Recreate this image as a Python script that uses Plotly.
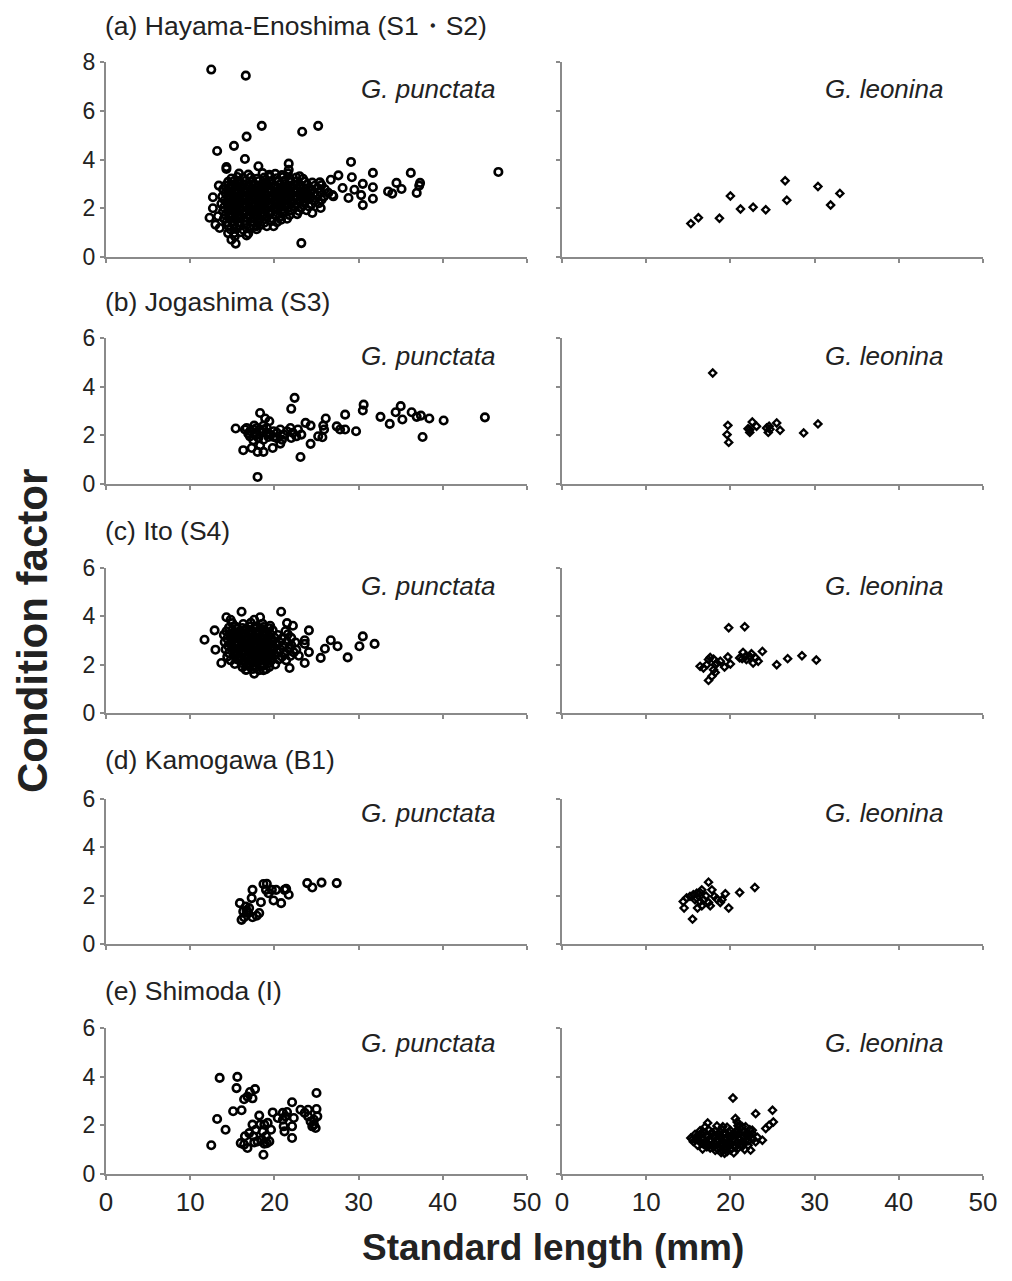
import plotly.graph_objects as go

# ---------------- data (standard length mm, condition factor) ----------------
hayama_punctata = [
    (12.5, 7.69), (16.6, 7.44), (18.5, 5.38), (25.2, 5.38), (23.3, 5.14), (16.7, 4.94),
    (15.2, 4.56), (13.2, 4.35), (16.5, 4.02), (14.3, 3.69), (14.3, 3.61), (18.1, 3.72),
    (21.7, 3.83), (21.7, 3.58), (29.1, 3.90), (31.7, 3.45), (36.2, 3.45), (46.6, 3.49),
    (27.6, 3.35), (26.7, 3.17), (29.2, 3.27), (23.0, 3.31), (25.4, 3.06), (30.5, 3.00),
    (31.7, 2.86), (34.5, 3.04), (37.3, 3.04), (37.2, 2.93), (35.1, 2.79), (33.5, 2.69),
    (34.0, 2.60), (36.9, 2.63), (28.1, 2.83), (29.5, 2.76), (30.3, 2.54), (31.7, 2.39),
    (30.5, 2.13), (28.8, 2.42), (27.0, 2.49), (26.9, 2.54), (23.2, 0.57), (12.3, 1.61),
    (12.7, 2.00), (12.7, 2.45), (13.4, 2.93), (13.0, 1.33), (13.5, 1.19), (14.5, 0.98),
    (14.9, 0.71), (15.4, 0.55), (16.7, 0.88), (15.3, 0.85), (20.8, 1.53), (19.9, 1.26),
    (24.5, 1.81), (25.5, 2.01), (17.9, 1.26), (13.3, 1.67),
    (15.8, 3.42), (16.9, 3.38), (18.6, 3.44), (19.4, 3.37), (20.1, 3.41), (20.9, 3.36), (21.6, 3.43),
    (14.9, 3.22), (15.6, 3.28), (16.3, 3.24), (17.2, 3.27), (17.9, 3.21), (18.8, 3.26), (19.5, 3.29),
    (20.3, 3.23), (21.0, 3.27), (21.8, 3.22), (22.6, 3.26), (23.4, 3.21),
    (14.5, 3.08), (15.2, 3.12), (15.9, 3.07), (16.6, 3.13), (17.4, 3.09), (18.1, 3.11), (18.9, 3.06),
    (19.6, 3.12), (20.4, 3.08), (21.2, 3.13), (21.9, 3.07), (22.7, 3.11), (23.6, 3.09), (24.5, 3.05),
    (14.2, 2.93), (14.9, 2.97), (15.6, 2.92), (16.3, 2.98), (17.0, 2.94), (17.7, 2.96), (18.5, 2.91),
    (19.2, 2.97), (20.0, 2.93), (20.7, 2.98), (21.5, 2.92), (22.3, 2.96), (23.1, 2.94), (23.9, 2.97),
    (24.8, 2.92), (25.6, 2.95),
    (13.9, 2.78), (14.6, 2.82), (15.3, 2.77), (16.0, 2.83), (16.7, 2.79), (17.4, 2.81), (18.1, 2.76),
    (18.9, 2.82), (19.6, 2.78), (20.4, 2.83), (21.1, 2.77), (21.9, 2.81), (22.7, 2.79), (23.5, 2.83),
    (24.3, 2.77), (25.2, 2.81), (26.0, 2.78),
    (14.2, 2.63), (14.9, 2.67), (15.6, 2.62), (16.3, 2.68), (17.1, 2.64), (17.8, 2.66), (18.5, 2.61),
    (19.3, 2.67), (20.0, 2.63), (20.8, 2.68), (21.5, 2.62), (22.3, 2.66), (23.1, 2.64), (23.9, 2.67),
    (24.7, 2.62), (25.5, 2.66), (26.4, 2.63),
    (13.8, 2.48), (14.5, 2.52), (15.2, 2.47), (15.9, 2.53), (16.7, 2.49), (17.4, 2.51), (18.2, 2.46),
    (18.9, 2.52), (19.7, 2.48), (20.4, 2.53), (21.2, 2.47), (21.9, 2.51), (22.7, 2.49), (23.5, 2.53),
    (24.3, 2.47), (25.1, 2.51), (25.9, 2.48),
    (14.1, 2.33), (14.8, 2.37), (15.5, 2.32), (16.3, 2.38), (17.0, 2.34), (17.8, 2.36), (18.5, 2.31),
    (19.3, 2.37), (20.0, 2.33), (20.8, 2.38), (21.6, 2.32), (22.3, 2.36), (23.1, 2.34), (23.9, 2.37),
    (24.8, 2.32), (25.6, 2.35),
    (13.7, 2.18), (14.4, 2.22), (15.1, 2.17), (15.9, 2.23), (16.6, 2.19), (17.4, 2.21), (18.1, 2.16),
    (18.9, 2.22), (19.6, 2.18), (20.4, 2.23), (21.2, 2.17), (22.0, 2.21), (22.7, 2.19), (23.5, 2.23),
    (24.4, 2.17), (25.3, 2.21),
    (14.0, 2.03), (14.8, 2.07), (15.5, 2.02), (16.2, 2.08), (17.0, 2.04), (17.7, 2.06), (18.5, 2.01),
    (19.3, 2.07), (20.0, 2.03), (20.8, 2.08), (21.6, 2.02), (22.4, 2.06), (23.2, 2.04), (24.1, 2.07),
    (13.9, 1.88), (14.5, 1.92), (15.2, 1.87), (15.9, 1.93), (16.6, 1.89), (17.3, 1.91), (18.1, 1.86),
    (18.9, 1.92), (19.6, 1.88), (20.4, 1.93), (21.2, 1.87), (22.0, 1.91), (22.9, 1.89), (23.8, 1.92),
    (14.2, 1.73), (14.9, 1.77), (15.6, 1.72), (16.3, 1.78), (17.0, 1.74), (17.8, 1.76), (18.6, 1.71),
    (19.3, 1.77), (20.1, 1.73), (20.9, 1.78), (21.8, 1.72), (22.7, 1.76),
    (14.0, 1.58), (14.6, 1.62), (15.3, 1.57), (16.0, 1.63), (16.8, 1.59), (17.5, 1.61), (18.3, 1.56),
    (19.1, 1.62), (19.8, 1.58), (20.6, 1.63), (21.5, 1.57),
    (14.3, 1.43), (15.0, 1.47), (15.7, 1.42), (16.5, 1.48), (17.2, 1.44), (18.0, 1.46), (18.8, 1.41),
    (19.6, 1.47), (20.3, 1.43),
    (14.5, 1.28), (15.2, 1.32), (15.9, 1.27), (16.7, 1.33), (17.5, 1.29), (18.3, 1.31), (19.1, 1.26),
    (14.8, 1.13), (15.5, 1.17), (16.3, 1.12), (17.1, 1.18), (17.9, 1.14),
    (15.2, 0.98), (16.0, 1.02), (16.9, 0.97),
    (15.0, 2.88), (16.0, 2.86), (17.0, 2.89), (18.0, 2.87), (19.0, 2.88), (20.0, 2.86), (21.0, 2.89),
    (22.0, 2.87), (23.0, 2.88),
    (14.5, 2.72), (15.5, 2.71), (16.5, 2.73), (17.5, 2.72), (18.5, 2.70), (19.5, 2.73), (20.5, 2.71),
    (21.5, 2.72), (22.5, 2.73), (23.5, 2.71),
    (15.0, 2.57), (16.0, 2.56), (17.0, 2.58), (18.0, 2.57), (19.0, 2.55), (20.0, 2.58), (21.0, 2.56),
    (22.0, 2.57), (23.0, 2.58), (24.0, 2.56),
    (14.5, 2.42), (15.5, 2.41), (16.5, 2.43), (17.5, 2.42), (18.5, 2.40), (19.5, 2.43), (20.5, 2.41),
    (21.5, 2.42), (22.5, 2.43), (23.5, 2.41),
    (15.0, 2.27), (16.0, 2.26), (17.0, 2.28), (18.0, 2.27), (19.0, 2.25), (20.0, 2.28), (21.0, 2.26),
    (22.0, 2.27), (23.0, 2.28),
    (14.5, 2.12), (15.5, 2.11), (16.5, 2.13), (17.5, 2.12), (18.5, 2.10), (19.5, 2.13), (20.5, 2.11),
    (21.5, 2.12),
    (15.0, 1.97), (16.0, 1.96), (17.0, 1.98), (18.0, 1.97), (19.0, 1.95), (20.0, 1.98), (21.0, 1.96),
    (15.5, 1.82), (16.5, 1.81), (17.5, 1.83), (18.5, 1.82), (19.5, 1.80),
    (15.0, 1.67), (16.0, 1.66), (17.0, 1.68), (18.0, 1.67),
]

hayama_leonina = [
    (15.3, 1.37), (16.2, 1.61), (18.7, 1.59), (20.0, 2.50), (21.2, 1.97), (22.7, 2.04),
    (24.2, 1.94), (26.5, 3.13), (26.7, 2.33), (30.4, 2.89), (31.9, 2.13), (33.0, 2.61),
]

jogashima_punctata = [
    (22.4, 3.54), (22.0, 3.09), (15.4, 2.28), (18.3, 2.92), (18.9, 2.69), (19.4, 2.58),
    (16.3, 1.39), (18.0, 1.32), (18.7, 1.32), (19.8, 1.48), (18.0, 0.29), (23.1, 1.11),
    (24.3, 1.65), (25.2, 1.96), (25.7, 1.92), (25.9, 2.24), (25.8, 2.40), (26.1, 2.69),
    (23.7, 2.51), (24.3, 2.40), (23.2, 2.03), (28.4, 2.85), (27.4, 2.37), (27.8, 2.24),
    (28.4, 2.24), (29.7, 2.17), (30.6, 3.26), (30.5, 3.02), (32.6, 2.76), (33.7, 2.47),
    (34.4, 2.95), (35.0, 3.20), (35.2, 2.65), (36.3, 2.95), (36.9, 2.76), (37.4, 2.81),
    (38.4, 2.69), (37.6, 1.93), (40.1, 2.61), (45.0, 2.74),
    (16.7, 2.30), (17.1, 2.17), (17.5, 2.24), (17.9, 2.30), (18.3, 2.13), (18.7, 2.24),
    (19.1, 2.10), (19.5, 2.03), (19.9, 2.17), (20.3, 2.10), (20.7, 2.24), (21.1, 2.03),
    (21.5, 2.17), (21.9, 2.30), (22.2, 2.10), (22.6, 1.96), (22.0, 1.89), (20.9, 1.82),
    (20.7, 1.66), (19.9, 1.93), (17.9, 2.03), (17.1, 1.96), (17.5, 1.80), (18.7, 1.82),
    (18.3, 1.58), (17.3, 1.48), (16.5, 2.24), (17.6, 2.40), (18.7, 2.40), (19.3, 1.93),
    (20.3, 1.88), (22.8, 2.24), (16.9, 2.07), (18.1, 1.89), (19.1, 2.30), (17.7, 2.10),
]

jogashima_leonina = [
    (17.9, 4.56), (19.7, 2.41), (19.6, 2.03), (19.8, 1.71), (22.1, 2.27), (22.3, 2.12),
    (22.6, 2.55), (23.1, 2.37), (24.3, 2.30), (24.6, 2.37), (24.5, 2.12), (25.5, 2.51),
    (25.9, 2.21), (28.7, 2.10), (30.4, 2.47), (22.3, 2.23), (24.7, 2.25),
]

ito_punctata = [
    (11.7, 3.03), (12.9, 3.42), (13.0, 2.62), (13.7, 2.07), (14.3, 3.96), (14.8, 3.86),
    (16.1, 4.19), (17.6, 3.86), (18.3, 3.96), (19.5, 3.61), (20.8, 4.19), (21.5, 3.72),
    (22.2, 3.61), (24.1, 3.42), (23.6, 3.01), (23.6, 2.86), (24.1, 2.52), (23.6, 2.07),
    (21.8, 1.86), (22.9, 2.37), (25.5, 2.28), (26.0, 2.66), (26.7, 3.01), (27.5, 2.76),
    (28.7, 2.30), (30.1, 2.76), (30.5, 3.17), (31.9, 2.86), (17.6, 1.63), (16.7, 1.79),
    (18.7, 1.77),
    (15.0, 3.72), (16.3, 3.68), (17.2, 3.73), (18.6, 3.69),
    (14.6, 3.53), (15.4, 3.57), (16.2, 3.52), (17.0, 3.58), (17.8, 3.54), (18.7, 3.56), (19.4, 3.51),
    (14.3, 3.38), (15.0, 3.42), (15.8, 3.37), (16.6, 3.43), (17.4, 3.39), (18.2, 3.41), (19.0, 3.36),
    (19.8, 3.42), (21.3, 3.38),
    (14.0, 3.23), (14.7, 3.27), (15.5, 3.22), (16.3, 3.28), (17.1, 3.24), (17.9, 3.26), (18.7, 3.21),
    (19.5, 3.27), (20.4, 3.23), (21.6, 3.26),
    (14.4, 3.08), (15.2, 3.12), (16.0, 3.07), (16.8, 3.13), (17.6, 3.09), (18.4, 3.11), (19.2, 3.06),
    (20.0, 3.12), (20.9, 3.08), (22.0, 3.11),
    (14.1, 2.93), (14.9, 2.97), (15.7, 2.92), (16.5, 2.98), (17.3, 2.94), (18.1, 2.96), (18.9, 2.91),
    (19.7, 2.97), (20.6, 2.93), (21.5, 2.96), (22.5, 2.92),
    (14.5, 2.78), (15.3, 2.82), (16.1, 2.77), (16.9, 2.83), (17.7, 2.79), (18.5, 2.81), (19.3, 2.76),
    (20.2, 2.82), (21.1, 2.78), (22.0, 2.81),
    (14.2, 2.63), (15.0, 2.67), (15.8, 2.62), (16.6, 2.68), (17.4, 2.64), (18.2, 2.66), (19.0, 2.61),
    (19.8, 2.67), (20.7, 2.63), (21.7, 2.66), (22.6, 2.62),
    (14.6, 2.48), (15.4, 2.52), (16.2, 2.47), (17.0, 2.53), (17.8, 2.49), (18.6, 2.51), (19.4, 2.46),
    (20.3, 2.52), (21.3, 2.48), (22.3, 2.51),
    (14.4, 2.33), (15.2, 2.37), (16.0, 2.32), (16.8, 2.38), (17.6, 2.34), (18.4, 2.36), (19.2, 2.31),
    (20.0, 2.37), (20.9, 2.33), (21.9, 2.36),
    (14.8, 2.18), (15.6, 2.22), (16.4, 2.17), (17.2, 2.23), (18.0, 2.19), (18.8, 2.21), (19.6, 2.16),
    (20.5, 2.22), (21.4, 2.18),
    (15.3, 2.03), (16.1, 2.07), (16.9, 2.02), (17.7, 2.08), (18.5, 2.04), (19.3, 2.06), (20.1, 2.01),
    (16.2, 1.90), (17.0, 1.94), (17.8, 1.89), (18.6, 1.95), (19.4, 1.91),
    (16.6, 1.78), (17.4, 1.82), (18.2, 1.77), (19.0, 1.81),
    (15.6, 3.48), (16.6, 3.47), (17.6, 3.49), (18.5, 3.47),
    (15.2, 3.32), (16.1, 3.31), (17.0, 3.33), (17.9, 3.32), (18.8, 3.31),
    (14.8, 3.17), (15.7, 3.16), (16.6, 3.18), (17.5, 3.17), (18.4, 3.16), (19.3, 3.18),
    (15.1, 3.02), (16.0, 3.01), (16.9, 3.03), (17.8, 3.02), (18.7, 3.01), (19.6, 3.03),
    (14.8, 2.87), (15.7, 2.86), (16.6, 2.88), (17.5, 2.87), (18.4, 2.86), (19.3, 2.88), (20.2, 2.87),
    (15.1, 2.72), (16.0, 2.71), (16.9, 2.73), (17.8, 2.72), (18.7, 2.71), (19.6, 2.73),
    (15.3, 2.57), (16.2, 2.56), (17.1, 2.58), (18.0, 2.57), (18.9, 2.56), (19.8, 2.58),
    (15.6, 2.42), (16.5, 2.41), (17.4, 2.43), (18.3, 2.42), (19.2, 2.41),
    (16.0, 2.27), (16.9, 2.26), (17.8, 2.28), (18.7, 2.27), (19.6, 2.26),
    (16.4, 2.12), (17.3, 2.11), (18.2, 2.13), (19.1, 2.12),
    (16.8, 1.97), (17.7, 1.96), (18.6, 1.98),
]

ito_leonina = [
    (19.8, 3.53), (21.7, 3.57), (17.4, 1.35), (17.8, 1.52), (18.2, 1.68), (18.0, 1.79),
    (16.4, 1.93), (16.8, 1.86), (17.6, 2.30), (17.4, 2.21), (18.0, 2.23), (18.4, 2.07),
    (18.8, 2.14), (19.3, 1.90), (19.7, 2.32), (20.0, 2.03), (21.1, 2.28), (21.5, 2.51),
    (21.9, 2.21), (22.3, 2.34), (22.7, 2.07), (23.0, 2.28), (23.3, 2.14), (23.8, 2.55),
    (21.4, 2.25), (21.8, 2.34), (22.5, 2.45), (25.5, 2.00), (26.8, 2.25), (28.5, 2.37),
    (30.2, 2.19), (18.2, 2.00), (17.2, 2.00),
]

kamogawa_punctata = [
    (15.9, 1.69), (16.1, 1.00), (16.4, 1.11), (16.6, 1.55), (16.7, 1.38), (17.0, 1.49),
    (17.3, 1.90), (17.4, 2.24), (17.4, 1.11), (17.9, 1.17), (18.2, 1.28), (18.4, 1.73),
    (18.7, 2.48), (19.1, 2.49), (19.0, 2.24), (19.3, 2.10), (19.7, 2.24), (19.9, 1.80),
    (20.2, 2.24), (20.8, 1.69), (21.2, 2.24), (21.4, 2.28), (21.7, 2.04), (23.9, 2.52),
    (24.5, 2.34), (25.6, 2.54), (27.4, 2.52), (16.9, 1.28), (16.3, 1.35),
]

kamogawa_leonina = [
    (17.4, 2.56), (15.5, 1.03), (14.5, 1.49), (14.4, 1.76), (14.8, 1.90), (15.2, 1.97),
    (15.6, 2.04), (16.0, 2.10), (16.4, 2.13), (16.1, 1.49), (16.6, 1.58), (16.8, 1.83),
    (17.1, 1.99), (17.4, 1.72), (17.6, 1.58), (17.8, 2.24), (18.1, 1.97), (18.4, 1.86),
    (18.8, 1.72), (19.0, 1.83), (19.4, 2.08), (19.8, 1.49), (21.1, 2.13), (22.9, 2.34),
    (16.0, 1.90), (16.4, 1.76), (16.6, 2.24), (15.8, 1.83),
]

shimoda_punctata = [
    (12.5, 1.18), (13.2, 2.26), (13.5, 3.95), (14.2, 1.82), (15.1, 2.58), (15.6, 3.99),
    (15.5, 3.53), (16.1, 2.62), (16.4, 3.07), (16.8, 3.18), (17.1, 3.37), (17.4, 3.11),
    (17.7, 3.49), (16.0, 1.27), (16.4, 1.21), (16.8, 1.07), (16.5, 1.55), (17.0, 1.68),
    (17.4, 2.03), (17.6, 1.30), (18.2, 2.40), (18.3, 2.03), (18.6, 1.75), (18.7, 0.79),
    (18.8, 1.25), (19.0, 1.55), (19.2, 2.10), (19.4, 1.34), (19.6, 1.82), (19.8, 2.53),
    (20.4, 2.30), (21.0, 2.51), (21.1, 1.96), (21.2, 1.75), (21.5, 2.55), (22.1, 2.95),
    (22.1, 1.96), (22.1, 1.48), (22.3, 2.30), (23.1, 2.64), (23.6, 2.51), (24.0, 2.37),
    (24.3, 2.16), (24.7, 2.03), (24.9, 1.89), (25.1, 2.37), (25.0, 2.67), (25.0, 3.33),
    (24.0, 2.64), (24.7, 2.23), (24.5, 1.96), (17.5, 1.55), (18.0, 1.34), (18.5, 1.41),
    (19.1, 1.27), (17.8, 1.82), (18.8, 2.03), (21.0, 2.23), (21.3, 2.37),
]

shimoda_leonina = [
    (20.3, 3.12), (23.0, 2.48), (25.0, 2.62), (25.1, 2.14), (24.6, 2.00), (24.2, 1.87),
    (17.3, 2.10), (19.1, 1.94), (20.6, 2.28), (20.8, 2.14), (21.4, 1.94), (22.6, 1.80),
    (23.8, 1.39), (22.4, 0.98), (19.3, 0.85), (15.5, 1.43),
    (17.0, 1.93), (18.4, 1.97), (19.6, 1.92), (20.9, 1.98), (21.8, 1.94),
    (16.4, 1.78), (17.4, 1.82), (18.2, 1.77), (19.0, 1.83), (20.0, 1.79), (20.8, 1.81), (21.6, 1.76), (22.3, 1.82),
    (15.8, 1.63), (16.5, 1.67), (17.2, 1.62), (17.9, 1.68), (18.6, 1.64), (19.4, 1.66), (20.2, 1.61),
    (21.0, 1.67), (21.8, 1.63), (22.6, 1.66),
    (15.3, 1.48), (15.9, 1.52), (16.6, 1.47), (17.3, 1.53), (18.0, 1.49), (18.7, 1.51), (19.4, 1.46),
    (20.1, 1.52), (20.9, 1.48), (21.7, 1.53), (22.5, 1.47), (23.2, 1.51),
    (15.6, 1.33), (16.3, 1.37), (17.0, 1.32), (17.7, 1.38), (18.4, 1.34), (19.1, 1.36), (19.8, 1.31),
    (20.6, 1.37), (21.4, 1.33), (22.2, 1.36), (23.0, 1.32),
    (16.1, 1.18), (16.8, 1.22), (17.5, 1.17), (18.2, 1.23), (19.0, 1.19), (19.7, 1.21), (20.5, 1.16),
    (21.3, 1.22), (22.1, 1.18),
    (16.7, 1.03), (17.6, 1.07), (18.5, 1.02), (19.3, 1.08), (20.1, 1.04), (20.9, 1.06), (21.7, 1.01),
    (18.9, 0.88), (19.6, 0.92), (20.4, 0.87),
    (16.8, 1.72), (17.8, 1.71), (18.8, 1.73), (19.8, 1.72), (20.7, 1.70), (21.6, 1.73),
    (16.2, 1.57), (17.1, 1.56), (18.0, 1.58), (18.9, 1.57), (19.8, 1.55), (20.7, 1.58), (21.5, 1.56), (22.3, 1.57),
    (15.9, 1.42), (16.8, 1.41), (17.6, 1.43), (18.5, 1.42), (19.4, 1.40), (20.3, 1.43), (21.1, 1.41),
    (21.9, 1.42), (22.7, 1.43),
    (16.5, 1.27), (17.3, 1.26), (18.1, 1.28), (19.0, 1.27), (19.9, 1.25), (20.8, 1.28), (21.7, 1.26),
    (17.2, 1.12), (18.0, 1.11), (18.9, 1.13), (19.8, 1.12), (20.6, 1.10), (21.4, 1.13),
    (18.2, 0.97), (19.1, 0.96), (20.0, 0.98),
]

site_titles = [
    "(a) Hayama-Enoshima (S1・S2)",
    "(b) Jogashima (S3)",
    "(c) Ito (S4)",
    "(d) Kamogawa (B1)",
    "(e) Shimoda (I)",
]
species_names = ["G. punctata", "G. leonina"]
y_max = [8, 6, 6, 6, 6]
x_ticks = [0, 10, 20, 30, 40, 50]

panels = [
    (hayama_punctata, hayama_leonina),
    (jogashima_punctata, jogashima_leonina),
    (ito_punctata, ito_leonina),
    (kamogawa_punctata, kamogawa_leonina),
    (shimoda_punctata, shimoda_leonina),
]

# ---------------- layout geometry (page pixels; page has an 8px body margin) ----------------
OFF = 8
W, H = 1012 - OFF, 1281 - OFF
col_px = [(106, 527), (562, 983)]
row_px = [(62, 257), (338, 484), (568, 713), (799, 944), (1028, 1174)]
title_y_px = [26, 302, 531, 760, 991]
species_y_px = [89, 356, 586, 813, 1043]
species_right_px = [497, 946]


def px_x(v):
    return (v - OFF) / W


def px_y(v):
    return 1 - (v - OFF) / H


AXIS_COLOR = "#8a8a8a"
TEXT_COLOR = "#222222"
FONT = "Liberation Sans, Arial, sans-serif"

fig = go.Figure()
annotations = []

for r, (left, right) in enumerate(panels):
    for c, pts in enumerate((left, right)):
        idx = r * 2 + c + 1
        xs = [p[0] for p in pts]
        ys = [p[1] for p in pts]
        xname = "x" if idx == 1 else f"x{idx}"
        yname = "y" if idx == 1 else f"y{idx}"
        if c == 0:
            marker = dict(symbol="circle-open", size=7.5, color="black",
                          line=dict(width=2.6, color="black"))
        else:
            marker = dict(symbol="diamond-open", size=5.5, color="black",
                          line=dict(width=2.3, color="black"))
        fig.add_trace(go.Scatter(x=xs, y=ys, mode="markers", marker=marker,
                                 xaxis=xname, yaxis=yname, showlegend=False,
                                 hoverinfo="skip"))
        x0, x1 = col_px[c]
        y0, y1 = row_px[r]
        xa = dict(domain=[px_x(x0), px_x(x1)], range=[0, 50], tickvals=x_ticks,
                  showticklabels=(r == 4), ticks="outside", ticklen=4, tickwidth=1.5,
                  tickcolor=AXIS_COLOR, showline=True, linecolor=AXIS_COLOR, linewidth=2,
                  showgrid=False, zeroline=False, anchor=yname, fixedrange=True,
                  automargin=False,
                  tickfont=dict(family=FONT, size=26, color=TEXT_COLOR))
        ya = dict(domain=[px_y(y1), px_y(y0)], range=[0, y_max[r]],
                  tickvals=list(range(0, y_max[r] + 1, 2)),
                  showticklabels=(c == 0), ticks="outside", ticklen=4, tickwidth=1.5,
                  tickcolor=AXIS_COLOR, showline=True, linecolor=AXIS_COLOR, linewidth=2,
                  showgrid=False, zeroline=False, anchor=xname, fixedrange=True,
                  automargin=False,
                  tickfont=dict(family=FONT, size=23, color=TEXT_COLOR))
        key = "" if idx == 1 else str(idx)
        fig.update_layout(**{f"xaxis{key}": xa, f"yaxis{key}": ya})

        annotations.append(dict(
            text=f"<i>{species_names[c]}</i>", xref="paper", yref="paper",
            x=px_x(species_right_px[c]), y=px_y(species_y_px[r]),
            xanchor="right", yanchor="middle", showarrow=False,
            font=dict(family=FONT, size=26, color=TEXT_COLOR)))

    annotations.append(dict(
        text=site_titles[r], xref="paper", yref="paper",
        x=px_x(103), y=px_y(title_y_px[r]), xanchor="left", yanchor="middle",
        showarrow=False, font=dict(family=FONT, size=26.5, color=TEXT_COLOR)))

annotations.append(dict(
    text="<b>Standard length (mm)</b>", xref="paper", yref="paper",
    x=px_x(553), y=px_y(1247), xanchor="center", yanchor="middle", showarrow=False,
    font=dict(family=FONT, size=37, color=TEXT_COLOR)))
annotations.append(dict(
    text="<b>Condition factor</b>", xref="paper", yref="paper",
    x=px_x(32), y=px_y(631), xanchor="center", yanchor="middle", showarrow=False,
    textangle=-90, font=dict(family=FONT, size=42, color=TEXT_COLOR)))

fig.update_layout(template="none", width=W, height=H,
                  margin=dict(l=0, r=0, t=0, b=0, pad=0),
                  paper_bgcolor="white", plot_bgcolor="white",
                  annotations=annotations)

fig.write_html("out.html")
